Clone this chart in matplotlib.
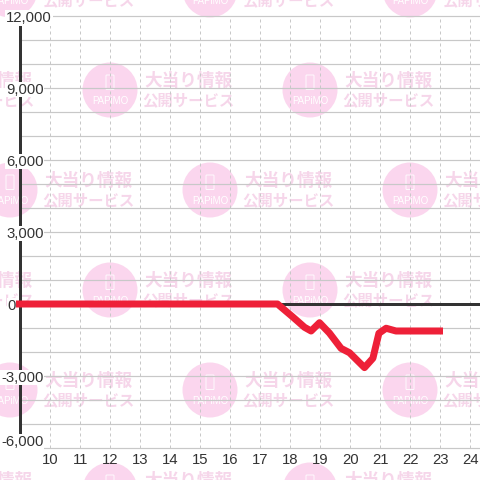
import matplotlib
matplotlib.use('Agg')
import matplotlib.pyplot as plt
from matplotlib.patches import Circle, FancyBboxPatch

hours = [9, 17.6, 18.1, 18.5, 18.72, 19, 19.33, 19.72, 20, 20.5, 20.78, 20.98, 21.22, 21.55, 23]
profit = [0, 0, -530, -970, -1125, -780, -1210, -1850, -2030, -2650, -2260, -1220, -1010, -1125, -1125]

x_ticks = list(range(10, 25))
grid_y = list(range(-6000, 12001, 1000))
y_ticks = [12000, 9000, 6000, 3000, 0, -3000, -6000]
y_labels = ['12,000', '9,000', '6,000', '3,000', '0', '-3,000', '-6,000']
# right edge of each label in px, and its vertical centre
label_right = [52, 43.5, 43.5, 43.5, 16, 43.5, 43.5]
label_y = [18, 89.5, 161.5, 233.5, 306, 377.5, 442]

stamp_rows = {-10: [10, 210, 410], 90: [-90, 110, 310], 190: [10, 210, 410],
              290: [-90, 110, 310], 390: [10, 210, 410], 490: [-90, 110, 310]}

plt.rcParams['font.family'] = ['Liberation Sans', 'DejaVu Sans']
DARK = '#333333'
GRID = '#c8c8c8'
px = 72 / 100

fig = plt.figure(figsize=(4.8, 4.8), dpi=100, facecolor='white')

# watermark layer, in pixel coordinates
bg = fig.add_axes([0, 0, 1, 1], zorder=0)
bg.set_xlim(0, 480)
bg.set_ylim(480, 0)
bg.axis('off')
for cy, xs in stamp_rows.items():
    for cx in xs:
        bg.add_patch(Circle((cx, cy), 27.5, fc='#fbd6ee', ec='none'))
        bg.add_patch(FancyBboxPatch((cx - 3.5, cy - 14.5), 7, 13.5, boxstyle='round,pad=0.5',
                                    fc='none', ec='white', lw=0.6))
        bg.text(cx, cy + 11, 'PAPiMO', color='white', fontsize=7, ha='center', va='center')
        bg.text(cx + 78.5, cy - 9.5, '大当り情報', color='#f6d6ea', fontsize=12.7, fontweight='bold',
                ha='center', va='center', family=['Noto Sans CJK JP', 'DejaVu Sans'])
        bg.text(cx + 78.5, cy + 10, '公開サービス', color='#f6d6ea', fontsize=11.1, fontweight='bold',
                ha='center', va='center', family=['Noto Sans CJK JP', 'DejaVu Sans'])

ax = fig.add_axes([0, 0, 1, 1], zorder=1)
ax.patch.set_alpha(0)
ax.set_xlim(10 - 49.5 / 30, 10 + (480 - 49.5) / 30)
ax.set_ylim(-176 * 3000 / 72, 304 * 3000 / 72)
ax.axis('off')

ax.vlines(x_ticks, -6000, 12000, color=GRID, lw=1 * px, linestyles=(0, (3, 3)), zorder=1)
ax.hlines(grid_y, 9, ax.get_xlim()[1], color=GRID, lw=1.2 * px, zorder=1)
ax.hlines(0, 9, ax.get_xlim()[1], color=DARK, lw=3 * px, zorder=2)
ax.vlines(9, -6000, 12000, color=DARK, lw=3 * px, zorder=2)

to_data = ax.transData.inverted()
for tick, lab, right, yy in zip(y_ticks, y_labels, label_right, label_y):
    pos = to_data.transform((right, 480 - yy))
    ax.text(pos[0], pos[1], lab, color=DARK, fontsize=10.7, ha='right', va='center', zorder=3,
            bbox=dict(fc='white', ec='none', pad=0.6))

for h in x_ticks:
    pos = to_data.transform((0, 480 - 460))
    ax.text(h + 1 / 30, pos[1], str(h), color=DARK, fontsize=10.7, ha='center', va='center', zorder=3)

ax.plot(hours, profit, color='#ee2038', lw=7 * px, solid_joinstyle='round',
        solid_capstyle='projecting', zorder=4)

fig.savefig('out.png', dpi=100)
